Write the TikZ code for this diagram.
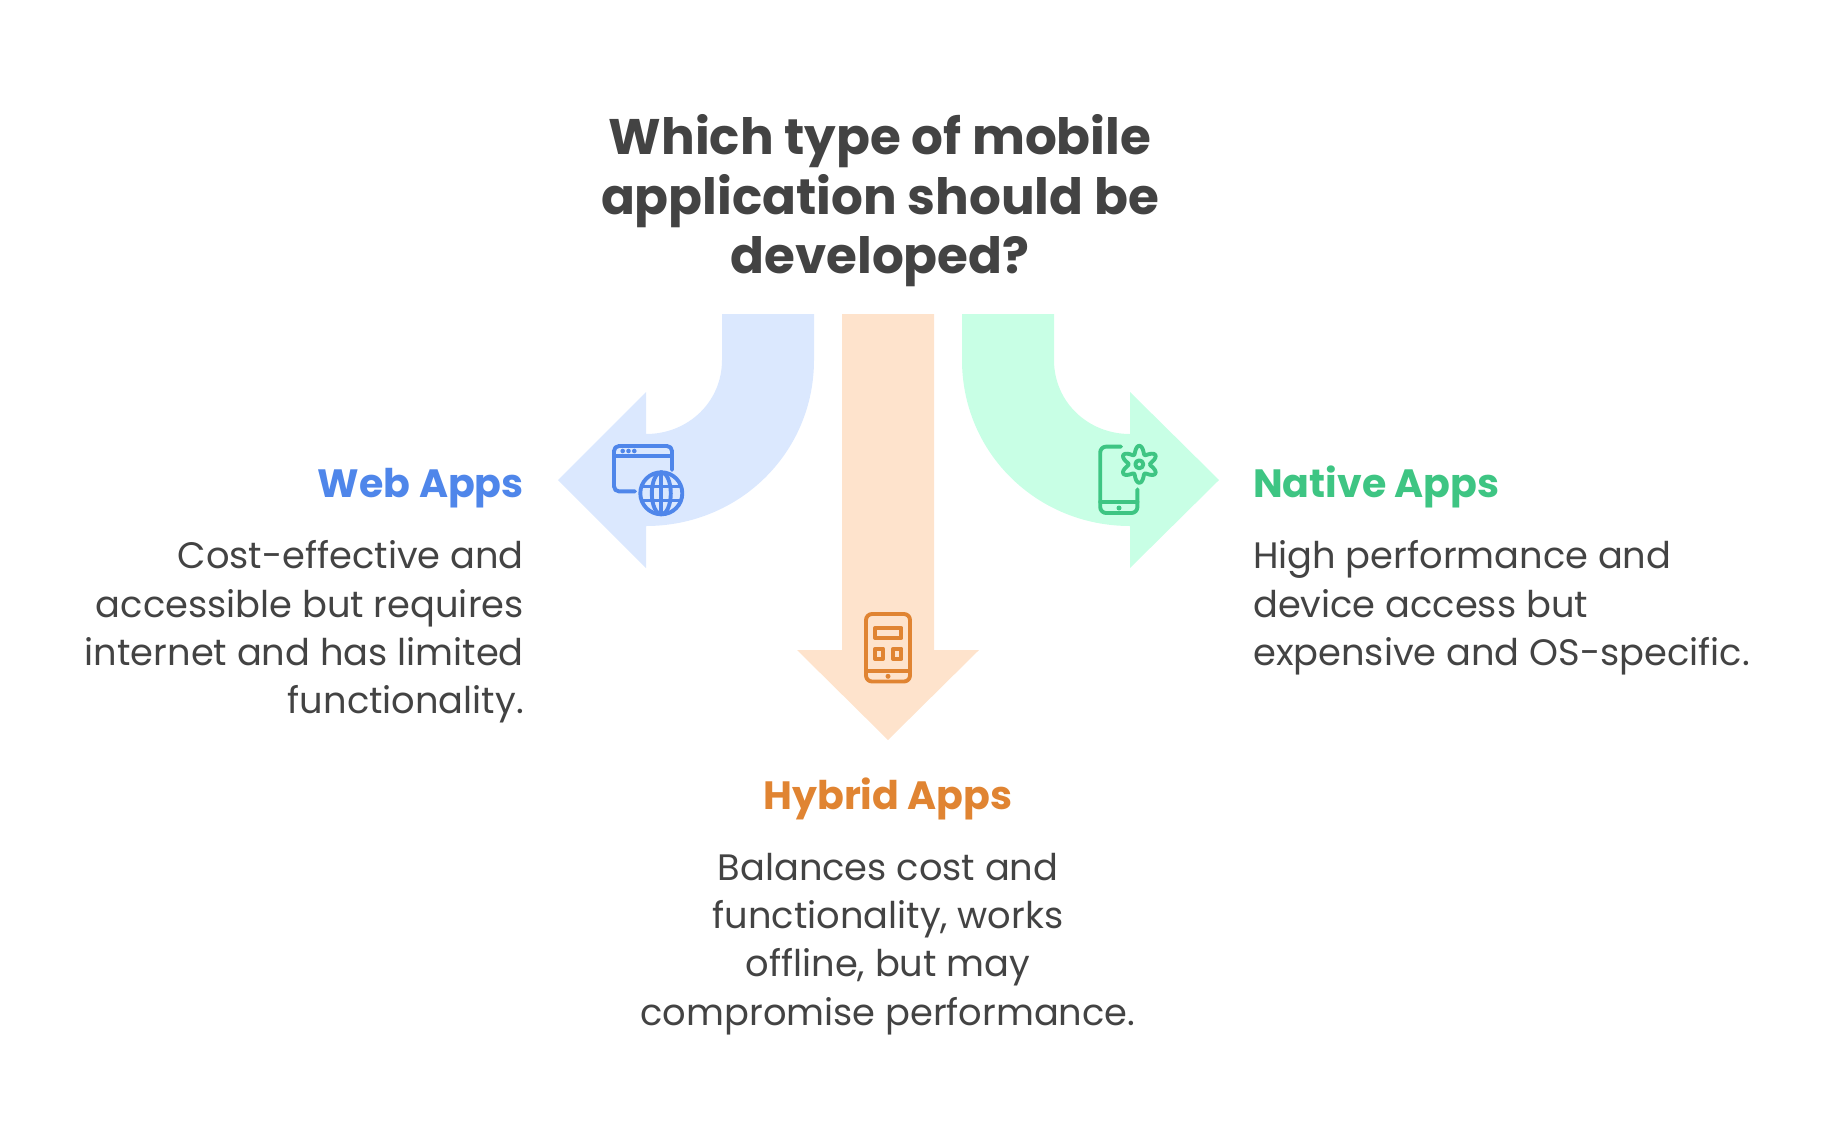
\documentclass[tikz,border=0pt]{standalone}
\usepackage{fontspec}
\setmainfont{Poppins}
\usetikzlibrary{calc}
\definecolor{inkc}{HTML}{434343}
\definecolor{blueS}{HTML}{4F86EA}
\definecolor{blueF}{HTML}{DBE8FE}
\definecolor{orangeS}{HTML}{E08432}
\definecolor{orangeF}{HTML}{FEE3CC}
\definecolor{greenS}{HTML}{3EC583}
\definecolor{greenF}{HTML}{C8FFE5}
\tikzset{
  titletxt/.style={inner sep=0pt,text=inkc,align=center,font=\fontsize{50}{59.5}\selectfont\bfseries},
  headtxt/.style={inner sep=0pt,font=\fontsize{39.5}{46}\selectfont\bfseries},
  bodytxt/.style={inner sep=0pt,text=inkc,font=\fontsize{36.8}{48.2}\selectfont},
  icon/.style={line width=3.9pt,line cap=round,line join=round},
}
\begin{document}
\begin{tikzpicture}[x=1pt,y=-1pt]
  \useasboundingbox (0,0) rectangle (1824,1128);
  % arrows
  \fill[blueF] (722,314)--(814,314)--(814,360) .. controls (814,453) and (739,526) .. (646,526)--(646,568)--(558,480)--(646,392)--(646,434) .. controls (688,434) and (722,402) .. (722,360)--cycle;
  \fill[orangeF] (842,314)--(934,314)--(934,650)--(979,650)--(888,740)--(797,650)--(842,650)--cycle;
  \fill[greenF] (1054,314)--(962,314)--(962,360) .. controls (962,453) and (1037,526) .. (1130,526)--(1130,568)--(1219,480)--(1130,392)--(1130,434) .. controls (1088,434) and (1054,402) .. (1054,360)--cycle;
  % title
  \node[titletxt] (title) at (880,201) {Which type of mobile\\application should be\\developed?};
  % web apps
  \node[headtxt,text=blueS,anchor=base east] (webhead) at (524,497) {Web Apps};
  \node[bodytxt,anchor=north east,align=right] (webbody) at (524,540.5) {Cost-effective and\\accessible but requires\\internet and has limited\\functionality.};
  \draw[icon,blueS,rounded corners=5pt] (635,491.4)--(614,491.4)--(614,446)--(672,446)--(672,470);
  \draw[icon,blueS] (614,456)--(672,456);
  \foreach \dotx in {622.7,628.5,634.3}
    \fill[blueS] (\dotx,451) circle[radius=2.3pt];
  \draw[icon,blueS] (661.3,493.3) circle[radius=21pt];
  \draw[icon,blueS] (661.3,493.3) ellipse[x radius=9.5pt,y radius=21pt];
  \draw[icon,blueS] (661.3,472.3)--(661.3,514.3);
  \draw[icon,blueS] (643,486.5)--(679.6,486.5) (643,500.5)--(679.6,500.5);
  % hybrid apps
  \node[headtxt,text=orangeS,anchor=base] (hybridhead) at (888,809) {Hybrid Apps};
  \node[bodytxt,anchor=north,align=center] (hybridbody) at (888,853) {Balances cost and\\functionality, works\\offline, but may\\compromise performance.};
  \draw[icon,orangeS,rounded corners=6pt] (866,614) rectangle (910,681.5);
  \draw[icon,orangeS] (866,670.7)--(910,670.7);
  \draw[icon,orangeS] (875.2,628) rectangle (901.4,638);
  \draw[icon,orangeS] (875.2,648.6) rectangle (883,659);
  \draw[icon,orangeS] (893.2,648.6) rectangle (901.4,659);
  \fill[orangeS] (888,676.3) circle[radius=2.5pt];
  % native apps
  \node[headtxt,text=greenS,anchor=base west] (nativehead) at (1253,497) {Native Apps};
  \node[bodytxt,anchor=north west,align=left] (nativebody) at (1253,540.5) {High performance and\\device access but\\expensive and OS-specific.};
  \draw[icon,greenS,rounded corners=6pt] (1121,446.6)--(1100.2,446.6)--(1100.2,513)--(1137.4,513)--(1137.4,489.3);
  \draw[icon,greenS] (1100.2,501.7)--(1137.4,501.7);
  \fill[greenS] (1119,508) circle[radius=2.5pt];
  \draw[icon,greenS] (1139.3,464.3) circle[radius=4pt];
  \draw[icon,greenS,shift={(1139.3,464.3)}] plot[domain=0:360,samples=97,smooth] ({(14.6-3.9*cos(6*\x))*cos(\x)},{(14.6-3.9*cos(6*\x))*sin(\x)});
\end{tikzpicture}
\end{document}
